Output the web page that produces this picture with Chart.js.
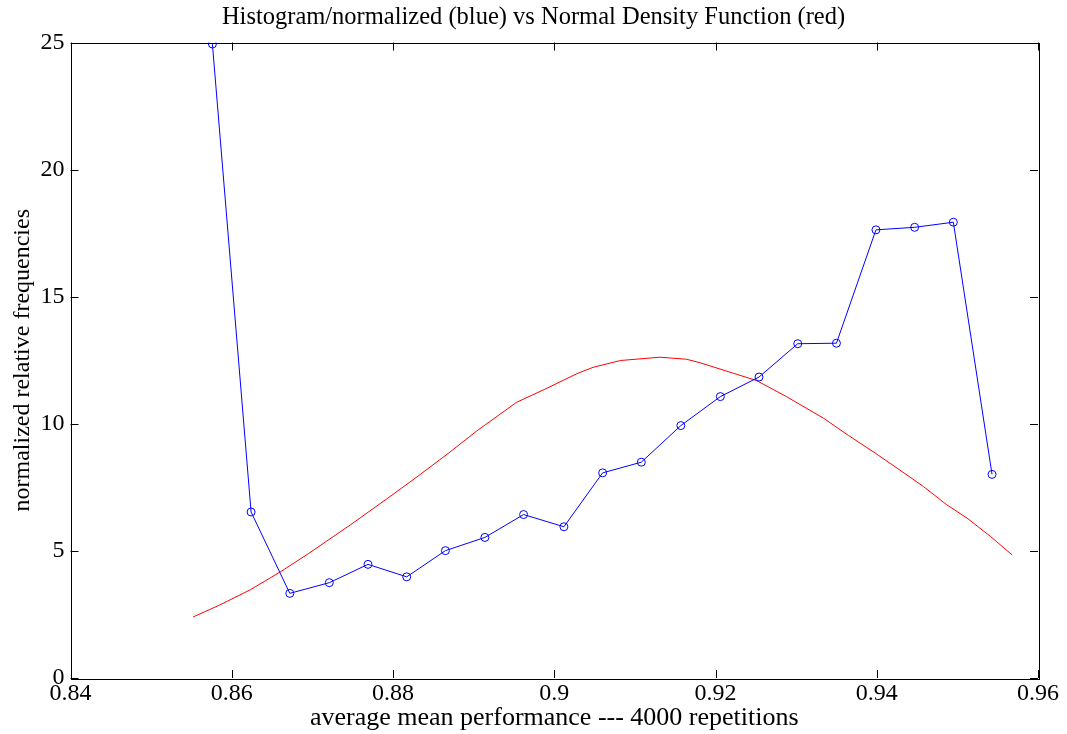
<!DOCTYPE html>
<html>
<head>
<meta charset="utf-8">
<script src="https://cdn.jsdelivr.net/npm/chart.js@4.4.0/dist/chart.umd.min.js"></script>
<style>
  html, body { margin: 0; padding: 0; background: #fff; }
  canvas { display: block; }
</style>
</head>
<body>
<canvas id="chart-hist" width="1067" height="734"></canvas>
<script>
// blue: normalized histogram
const histX = [0.8576, 0.8624, 0.8672, 0.8721, 0.8769, 0.8817, 0.8865, 0.8914, 0.8962, 0.9012, 0.9060,
               0.9108, 0.9157, 0.9206, 0.9254, 0.9302, 0.9350, 0.9399, 0.9447, 0.9495, 0.9543];
const histY = [24.94, 6.53, 3.33, 3.75, 4.47, 3.98, 5.01, 5.53, 6.43, 5.95, 8.07,
               8.49, 9.93, 11.07, 11.84, 13.15, 13.17, 17.63, 17.73, 17.93, 8.01];

// red: normal density
const normX = [0.8552, 0.8585, 0.8623, 0.8660, 0.8695, 0.8718, 0.8747, 0.8792, 0.8825, 0.8867, 0.8904,
               0.8953, 0.8991, 0.9028, 0.9048, 0.9082, 0.9131, 0.9164, 0.9181, 0.9222, 0.9251, 0.9288,
               0.9334, 0.9365, 0.9398, 0.9425, 0.9458, 0.9487, 0.9512, 0.9541, 0.9568];
const normY = [2.40, 2.87, 3.47, 4.17, 4.89, 5.39, 6.02, 7.04, 7.80, 8.80, 9.72,
               10.84, 11.40, 11.97, 12.22, 12.49, 12.62, 12.54, 12.40, 11.99, 11.70, 11.07,
               10.22, 9.54, 8.85, 8.26, 7.53, 6.81, 6.29, 5.57, 4.84];

const xTicks = [0.84, 0.86, 0.88, 0.9, 0.92, 0.94, 0.96];
const yTicks = [0, 5, 10, 15, 20, 25];

const serif = '"Liberation Serif", "Times New Roman", serif';

// matlab style box with inward ticks on all sides
const boxTicks = {
  id: 'boxTicks',
  afterDraw(chart) {
    const ctx = chart.ctx;
    const a = chart.chartArea;
    const sx = chart.scales.x, sy = chart.scales.y;
    const len = 8;
    ctx.save();
    ctx.strokeStyle = '#000';
    ctx.lineWidth = 1;
    ctx.strokeRect(Math.round(a.left) + 0.5, Math.round(a.top) + 0.5,
                   Math.round(a.right - a.left), Math.round(a.bottom - a.top));
    ctx.beginPath();
    xTicks.forEach(function(v){
      const px = Math.round(sx.getPixelForValue(v)) + 0.5;
      ctx.moveTo(px, a.bottom); ctx.lineTo(px, a.bottom - len);
      ctx.moveTo(px, a.top); ctx.lineTo(px, a.top + len);
    });
    yTicks.forEach(function(v){
      const py = Math.round(sy.getPixelForValue(v)) + 0.5;
      ctx.moveTo(a.left, py); ctx.lineTo(a.left + len, py);
      ctx.moveTo(a.right, py); ctx.lineTo(a.right - len, py);
    });
    ctx.stroke();
    ctx.restore();
  }
};

const ctx = document.getElementById('chart-hist').getContext('2d');
const histChart = new Chart(ctx, {
  type: 'scatter',
  data: {
    datasets: [
      {
        label: 'histogram',
        data: histX.map(function(x, i){ return {x: x, y: histY[i]}; }),
        showLine: true,
        borderColor: '#0000ff',
        borderWidth: 1,
        backgroundColor: 'rgba(0,0,0,0)',
        pointRadius: 4,
        pointBorderWidth: 1,
        pointBorderColor: '#0000ff',
        pointHoverRadius: 4,
        tension: 0
      },
      {
        label: 'normal',
        data: normX.map(function(x, i){ return {x: x, y: normY[i]}; }),
        showLine: true,
        borderColor: '#ff0000',
        borderWidth: 1,
        pointRadius: 0,
        tension: 0
      }
    ]
  },
  options: {
    responsive: false,
    animation: false,
    devicePixelRatio: 1,
    layout: { padding: 0 },
    plugins: {
      legend: { display: false },
      tooltip: { enabled: false },
      title: {
        display: true,
        text: 'Histogram/normalized (blue) vs Normal Density Function (red)',
        color: '#000',
        font: { family: serif, size: 24.5, weight: 'normal' },
        padding: { top: 3, bottom: 10.1 }
      }
    },
    scales: {
      x: {
        type: 'linear',
        min: 0.84,
        max: 0.96,
        afterBuildTicks: function(scale){ scale.ticks = xTicks.map(function(v){ return {value: v}; }); },
        afterFit: function(scale){ scale.height = 56; },
        grid: { display: false, drawTicks: false },
        border: { display: false },
        ticks: {
          color: '#000',
          padding: 1,
          maxRotation: 0,
          font: { family: serif, size: 24 },
          callback: function(v){ return String(+v.toFixed(2)); }
        },
        title: {
          display: true,
          text: 'average mean performance --- 4000 repetitions',
          color: '#000',
          font: { family: serif, size: 26 },
          padding: { top: 0, bottom: 0 }
        }
      },
      y: {
        type: 'linear',
        min: 0,
        max: 25,
        afterBuildTicks: function(scale){ scale.ticks = yTicks.map(function(v){ return {value: v}; }); },
        afterFit: function(scale){ scale.width = 70.5; },
        grid: { display: false, drawTicks: false },
        border: { display: false },
        ticks: {
          color: '#000',
          padding: 6,
          font: { family: serif, size: 24 }
        },
        title: {
          display: true,
          text: 'normalized relative frequencies',
          color: '#000',
          font: { family: serif, size: 24 },
          padding: { top: 8, bottom: 0 }
        }
      },
      // empty right-hand strip so the title stays centred on the page
      yRight: {
        type: 'linear',
        position: 'right',
        display: true,
        min: 0,
        max: 25,
        afterFit: function(scale){ scale.width = 29; },
        grid: { display: false, drawTicks: false },
        border: { display: false },
        ticks: { display: false }
      }
    }
  },
  plugins: [boxTicks]
});
</script>
</body>
</html>
